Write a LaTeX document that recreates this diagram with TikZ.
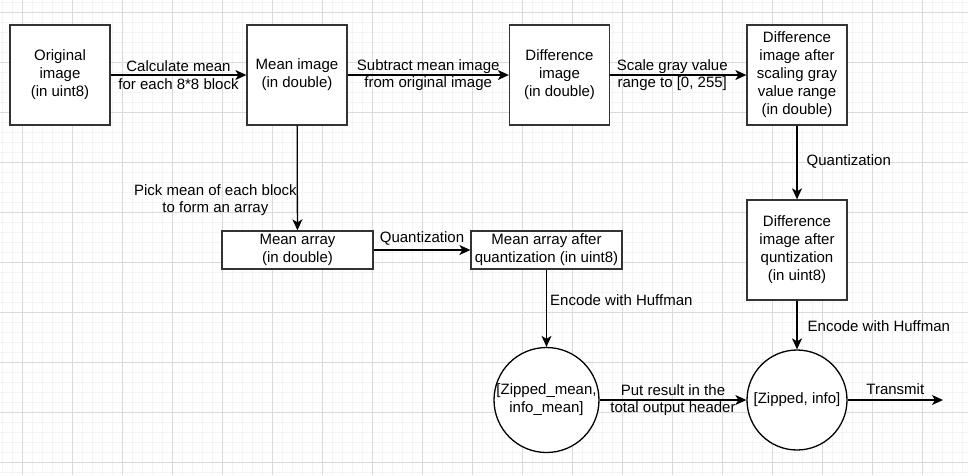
\documentclass[tikz,border=0pt]{standalone}
\usepackage{fontspec}
\setmainfont{Liberation Sans}
\usetikzlibrary{arrows.meta}
\definecolor{gridminor}{HTML}{F4F4F4}
\definecolor{gridmajor}{HTML}{DADADA}
\definecolor{boxline}{HTML}{333333}
\tikzset{
  box/.style={draw=boxline, line width=1.3pt, fill=white, rectangle, minimum width=100pt, minimum height=100pt, align=center, inner sep=2pt, font=\fontsize{15}{18}\selectfont},
  flat/.style={box, minimum width=151pt, minimum height=38pt},
  ball/.style={draw=black, line width=1.3pt, fill=white, circle, minimum size=100pt, align=center, inner sep=0pt, font=\fontsize{15}{18}\selectfont},
  conn/.style={draw=black, line width=1.3pt, -{Stealth[length=11pt,width=10pt,inset=3pt]}},
  lbl/.style={align=center, inner sep=0pt, font=\fontsize{15}{17.5}\selectfont, text=black}
}
\begin{document}
\begin{tikzpicture}[x=1pt,y=-1pt]
\useasboundingbox (0,0) rectangle (968,475);
\fill[white] (0,0) rectangle (968,475);
% grid
\foreach \g in {2.3,12.3,...,970} {\draw[gridminor, line width=0.8pt] (\g,0) -- (\g,475);}
\foreach \g in {2.3,12.3,...,480} {\draw[gridminor, line width=0.8pt] (0,\g) -- (968,\g);}
\foreach \g in {22.3,72.3,...,970} {\draw[gridmajor, line width=0.8pt] (\g,0) -- (\g,475);}
\foreach \g in {12.3,62.3,...,480} {\draw[gridmajor, line width=0.8pt] (0,\g) -- (968,\g);}
% nodes
\node[box] (orig) at (60,75) {Original\\image\\(in uint8)};
\node[box] (mean) at (297,75) {Mean image\\(in double)};
\node[box] (diff) at (559.5,75) {Difference\\image\\(in double)};
\node[box] (scaled) at (797,75) {Difference\\image after\\scaling gray\\value range\\(in double)};
\node[box] (diffq) at (797,250) {Difference\\image after\\quntization\\(in uint8)};
\node[flat] (marr) at (297.5,250) {Mean array\\(in double)};
\node[flat] (marrq) at (546.5,250) {Mean array after\\quantization (in uint8)};
\node[ball] (zmean) at (546.5,400) {[Zipped\_mean,\\info\_mean]};
\node[ball] (zall) at (797,400) {[Zipped, info]};
\coordinate (out) at (943,400);
% connectors
\draw[conn] (orig) -- (mean) node[lbl, midway] {Calculate mean\\for each 8*8 block};
\draw[conn] (mean) -- (diff) node[lbl, midway] {Subtract mean image\\from original image};
\draw[conn] (diff) -- (scaled) node[lbl, midway, xshift=-6pt] {Scale gray value\\range to [0, 255]};
\draw[conn] (mean) -- (marr) node[lbl, pos=0.71, anchor=east] {Pick mean of each block\\to form an array};
\draw[conn] (marr) -- (marrq) node[lbl, midway, above=4pt] {Quantization};
\draw[conn] (marrq) -- (zmean) node[lbl, pos=0.39, anchor=west, xshift=3pt] {Encode with Huffman};
\draw[conn] (scaled) -- (diffq) node[lbl, pos=0.49, anchor=west, xshift=9pt] {Quantization};
\draw[conn] (diffq) -- (zall) node[lbl, pos=0.52, anchor=west, xshift=10pt] {Encode with Huffman};
\draw[conn] (zmean) -- (zall) node[lbl, midway] {Put result in the\\total output header};
\draw[conn] (zall) -- (out) node[lbl, midway, above=5pt] {Transmit};
\end{tikzpicture}
\end{document}
